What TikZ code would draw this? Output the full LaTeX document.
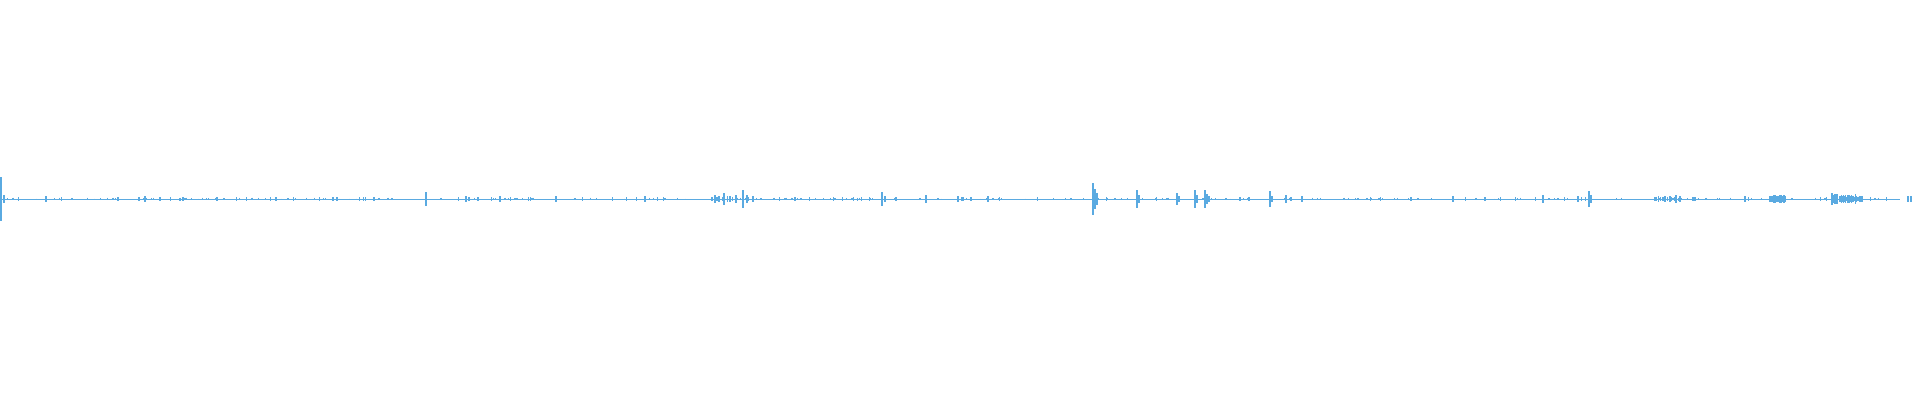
\documentclass[tikz,border=0pt]{standalone}
\begin{document}
\begin{tikzpicture}[x=0.02cm,y=-0.02cm]
\definecolor{waveclr}{RGB}{90,170,225}
\tikzset{wave/.style={waveclr,line width=0.025cm}}
\useasboundingbox (0,0) rectangle (1920,400);
\coordinate (mid) at (0,199);
% baseline of the trace
\draw[wave,line width=0.02cm] (mid) -- (1900,199);
% small noise all along
\pgfmathsetseed{7}
\foreach \i in {1,...,300}{
  \pgfmathsetmacro{\xx}{rnd*1900}
  \pgfmathsetmacro{\hh}{0.3+rnd*1.6}
  \draw[wave] (\xx,199-\hh) -- (\xx,199+\hh);
}
% bigger spikes: x / half height
\foreach \x/\h in {1/22,4/4,46/3,145/3,426/7,466/3,500/3,556/3,645/3,715/4,719/3,
  724/6,730/3,736/4,743/9,747/4,753/3,882/7,885/3,926/4,958/3,988/3,1093/16,1095/10,
  1097/6,1137/9,1139/4,1177/6,1179/3,1195/9,1197/4,1205/9,1207/5,1209/3,1270/8,1272/3,
  1286/4,1302/3,1453/3,1543/4,1578/3,1589/8,1591/4,1665/3,1670/3,1676/4,1745/3,
  1772/3,1780/4,1835/5,1840/3,1776/3,
  1774/4,1777/3,1832/6,1834/3,1837/5,1844/3,1848/2,
  1833/4,1908/3,1911/3}{
  \draw[wave] (\x,199-\h) -- (\x,199+\h);
}
% dense bursts
\foreach \a/\b/\h in {712/748/3,1655/1680/3,1770/1785/4,1833/1862/5,1843/1860/4}{
  \foreach \k in {0,...,14}{
    \pgfmathsetmacro{\xx}{\a+(\b-\a)*\k/14}
    \pgfmathsetmacro{\hh}{\h*(0.4+0.6*rnd)}
    \draw[wave] (\xx,199-\hh) -- (\xx,199+\hh);
  }
}
\end{tikzpicture}
\end{document}
